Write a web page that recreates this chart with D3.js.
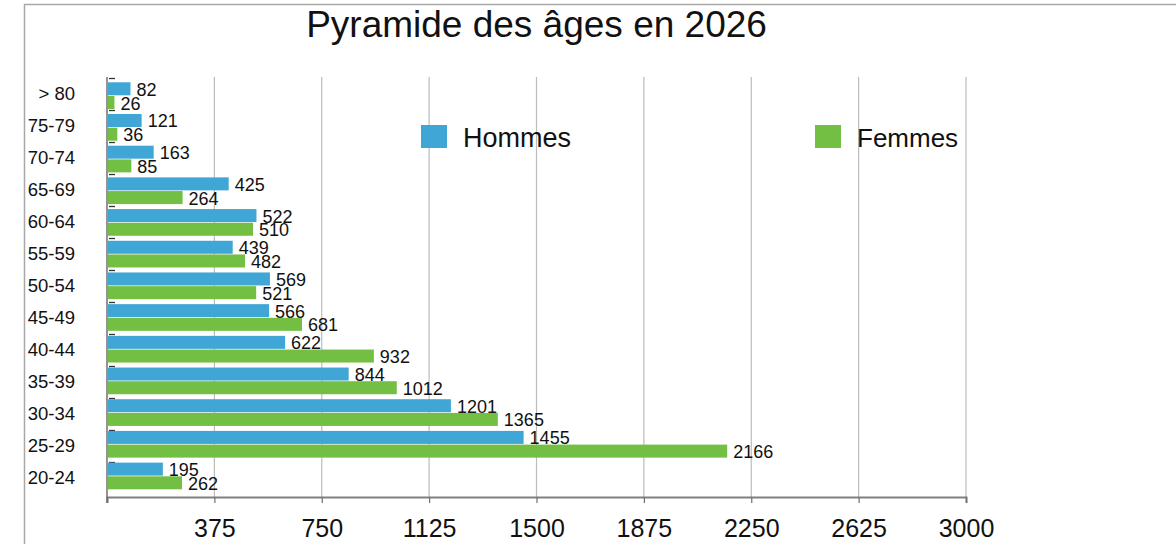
<!DOCTYPE html>
<html>
<head>
<meta charset="utf-8">
<script src="https://cdn.jsdelivr.net/npm/d3@7"></script>
<style>
  html, body { margin: 0; padding: 0; background: #fff; }
  svg text { font-family: "Liberation Sans", Arial, sans-serif; fill: #111; }
</style>
</head>
<body>
<div id="chart"></div>
<script>
// data, top row first
const categories = ["> 80", "75-79", "70-74", "65-69", "60-64", "55-59", "50-54", "45-49", "40-44", "35-39", "30-34", "25-29", "20-24"];
const hommes = [82, 121, 163, 425, 522, 439, 569, 566, 622, 844, 1201, 1455, 195];
const femmes = [26, 36, 85, 264, 510, 482, 521, 681, 932, 1012, 1365, 2166, 262];
const xTicks = [375, 750, 1125, 1500, 1875, 2250, 2625, 3000];
const seriesNames = ["Hommes", "Femmes"];
const title = "Pyramide des âges en 2026";

const width = 1176, height = 544;
const colors = {Hommes: "#3fa6d5", Femmes: "#72bf43"};

const svg = d3.select("#chart").append("svg")
  .attr("width", width)
  .attr("height", height);

// frame
svg.append("path")
  .attr("d", "M24.5," + height + "V4.5H" + width)
  .attr("fill", "none")
  .attr("stroke", "#a8a8a8")
  .attr("stroke-width", 1.5);

const x = d3.scaleLinear().domain([0, 3000]).range([107, 966]);
const yAxisBand = d3.scaleBand().domain(categories).range([78, 494]);   // tick marks + labels
const yBars = d3.scaleBand().domain(categories).range([80, 492]);       // bar groups
const barH = 13;

// grid lines
svg.append("g")
  .selectAll("line")
  .data(xTicks)
  .join("line")
  .attr("x1", d => x(d)).attr("x2", d => x(d))
  .attr("y1", 77).attr("y2", 497)
  .attr("stroke", "#bcbcbc")
  .attr("stroke-width", 1.2);

// x axis
const xAxis = svg.append("g")
  .attr("transform", "translate(0,497)")
  .call(d3.axisBottom(x).tickValues([0].concat(xTicks)).tickSize(6).tickPadding(16).tickFormat(d => d === 0 ? "" : d));
xAxis.select(".domain").attr("stroke", "#808080").attr("stroke-width", 2);
xAxis.selectAll(".tick line").attr("stroke", "#707070").attr("stroke-width", 1.2);
xAxis.selectAll(".tick text")
  .attr("font-size", 25)
  .attr("font-family", "Liberation Sans, Arial, sans-serif")
  .attr("fill", "#111");

// y axis line
svg.append("line")
  .attr("x1", 107).attr("x2", 107)
  .attr("y1", 77).attr("y2", 503)
  .attr("stroke", "#707070")
  .attr("stroke-width", 1.5);

// small marks at the top of each category
svg.append("g")
  .selectAll("line")
  .data(categories)
  .join("line")
  .attr("x1", 109).attr("x2", 115)
  .attr("y1", d => yAxisBand(d) + 0.5).attr("y2", d => yAxisBand(d) + 0.5)
  .attr("stroke", "#333")
  .attr("stroke-width", 1.3);

// category labels
svg.append("g")
  .selectAll("text")
  .data(categories)
  .join("text")
  .attr("x", 75)
  .attr("y", d => yAxisBand(d) + yAxisBand.bandwidth() / 2)
  .attr("dy", "0.35em")
  .attr("text-anchor", "end")
  .attr("font-size", 18.5)
  .text(d => d);

// bars
const series = [
  {name: "Hommes", values: hommes, offset: 2.3},
  {name: "Femmes", values: femmes, offset: 16}
];

series.forEach(s => {
  const g = svg.append("g");
  g.selectAll("rect")
    .data(categories)
    .join("rect")
    .attr("x", x(0) + 1)
    .attr("y", d => yBars(d) + s.offset)
    .attr("width", (d, i) => x(s.values[i]) - x(0) - 1)
    .attr("height", barH)
    .attr("fill", colors[s.name]);
  g.selectAll("text")
    .data(categories)
    .join("text")
    .attr("x", (d, i) => x(s.values[i]) + 6)
    .attr("y", d => yBars(d) + s.offset + barH + 0.5)
    .attr("font-size", 18)
    .text((d, i) => s.values[i]);
});

// title
svg.append("text")
  .attr("x", 536.5)
  .attr("y", 37)
  .attr("text-anchor", "middle")
  .attr("font-size", 37)
  .text(title);

// legend
const legendX = {Hommes: 421, Femmes: 815};
const legend = svg.append("g")
  .selectAll("g")
  .data(seriesNames)
  .join("g")
  .attr("transform", d => "translate(" + legendX[d] + ",125)");
legend.append("rect")
  .attr("width", 26).attr("height", 23)
  .attr("fill", d => colors[d]);
legend.append("text")
  .attr("x", d => d === "Hommes" ? 42 : 42)
  .attr("y", 21.5)
  .attr("font-size", d => d === "Hommes" ? 27 : 26)
  .text(d => d);
</script>
</body>
</html>
